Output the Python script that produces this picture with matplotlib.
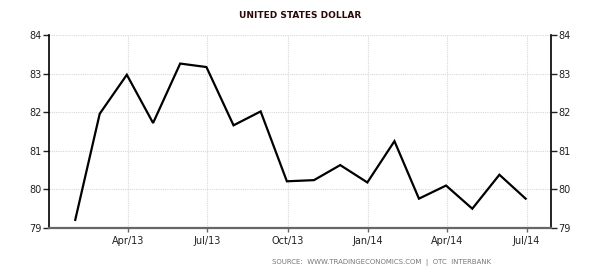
import matplotlib
matplotlib.use("Agg")
import matplotlib.pyplot as plt
import numpy as np
import pandas as pd

# month-end values, Jan 2013 .. Jun 2014
dates = pd.date_range("2013-01-31", periods=18, freq="ME")
values = [79.21, 81.96, 82.97, 81.72, 83.26, 83.17, 81.66, 82.02, 80.21,
          80.24, 80.63, 80.18, 81.25, 79.76, 80.10, 79.50, 80.38, 79.76]
yticks = [79, 80, 81, 82, 83, 84]
xtick_dates = pd.to_datetime(["2013-04-01", "2013-07-01", "2013-10-01",
                              "2014-01-01", "2014-04-01", "2014-07-01"])
xtick_labels = ["Apr/13", "Jul/13", "Oct/13", "Jan/14", "Apr/14", "Jul/14"]

fig = plt.figure(figsize=(6, 2.75), dpi=100)
ax = fig.add_axes([49/600, 1 - 228/275, 502/600, 193/275])

ax.plot(dates, values, color="black", lw=1.6, solid_joinstyle="miter")

ax.set_xlim(pd.Timestamp("2013-01-01"), pd.Timestamp("2014-07-29"))
ax.set_ylim(79, 84)
ax.set_xticks(xtick_dates)
ax.set_xticklabels(xtick_labels)
ax.set_yticks(yticks)

ax.grid(True, color="#d8d8d8", linestyle=(0, (1, 1)), lw=0.8)
ax.tick_params(axis="y", which="both", labelsize=7, length=4, width=1,
               left=True, right=True, labelleft=True, labelright=True,
               direction="out", pad=1, colors="#222222")
ax.tick_params(axis="x", labelsize=7, length=3, width=1, color="#666666",
               labelcolor="#222222", pad=3)

ax.spines["top"].set_visible(False)
ax.spines["left"].set_linewidth(1.2)
ax.spines["right"].set_linewidth(1.2)
ax.spines["bottom"].set_color("#666666")
ax.spines["bottom"].set_linewidth(1.6)

fig.text(0.5, 1 - 15/275, "UNITED STATES DOLLAR", ha="center", va="center",
         fontsize=6.5, fontweight="bold", color="#2a0808")
fig.text(491/600, 1 - 263/275,
         "SOURCE:  WWW.TRADINGECONOMICS.COM  |  OTC  INTERBANK",
         ha="right", va="center", fontsize=5, color="#777777")

fig.savefig("out.png", dpi=100)
